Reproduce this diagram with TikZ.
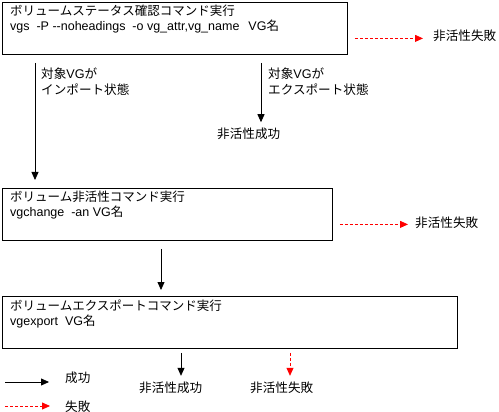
\documentclass[tikz,border=0pt]{standalone}
\usepackage{fontspec}
\setmainfont{Liberation Sans}
\newfontfamily\jp{Noto Sans CJK JP}
\usetikzlibrary{arrows.meta}
\newcommand\J[1]{{\jp #1}}
\begin{document}
\begin{tikzpicture}[x=1pt,y=-1pt,
  box/.style={draw,line width=0.8pt,rectangle,inner sep=0pt,anchor=north west},
  txt/.style={inner sep=0pt,anchor=base west,font=\fontsize{12.5}{14}\selectfont},
  lbl/.style={inner sep=0pt,anchor=base west,font=\jp\fontsize{12.6}{14}\selectfont},
  arr/.style={line width=0.8pt,-{Triangle[length=8pt,width=7pt]}},
  farr/.style={red,line width=0.8pt,dash pattern=on 3pt off 2pt,-{Triangle[length=8pt,width=7pt]}}]
\useasboundingbox (0,0) rectangle (499,412);

% boxes
\node[box,minimum width=345pt,minimum height=52pt] (b1) at (2,2) {};
\node[box,minimum width=330pt,minimum height=52pt] (b2) at (2,188) {};
\node[box,minimum width=455pt,minimum height=52pt] (b3) at (2,296) {};

% box texts
\node[txt] (t1a) at (10,16) {\J{ボリュームステータス確認コマンド実行}};
\node[txt] (t1b) at (10,31) {vgs\ \ -P -{}-noheadings\ \ -o vg\_attr,vg\_name\hspace{9pt}VG\J{名}};
\node[txt] (t2a) at (10,202) {\J{ボリューム非活性コマンド実行}};
\node[txt] (t2b) at (10,217) {vgchange\ \ -an VG\J{名}};
\node[txt] (t3a) at (10,310) {\J{ボリュームエクスポートコマンド実行}};
\node[txt] (t3b) at (10,325) {vgexport\ \ VG\J{名}};

% result labels
\node[lbl] (f1) at (433,41) {非活性失敗};
\node[lbl] (s1) at (217,139) {非活性成功};
\node[lbl] (f2) at (415,227) {非活性失敗};
\node[lbl] (s3) at (139,392) {非活性成功};
\node[lbl] (f3) at (250,392) {非活性失敗};

% condition labels
\node[lbl] (c1a) at (41,79) {対象\fontspec{Liberation Sans}VG\jp が};
\node[lbl] (c1b) at (41,95) {インポート状態};
\node[lbl] (c2a) at (268,79) {対象\fontspec{Liberation Sans}VG\jp が};
\node[lbl] (c2b) at (268,95) {エクスポート状態};

% legend
\coordinate (l1s) at (5,382);
\coordinate (l2s) at (5,406);
\node[lbl] (l1) at (65,382) {成功};
\node[lbl] (l2) at (65,411) {失敗};

% helper points
\coordinate (m1) at ([xshift=259pt,yshift=-8pt]b1.south west);
\coordinate (m2) at ([yshift=6pt]s1.north);
\coordinate (r1) at ([xshift=7pt,yshift=-10pt]b1.east);
\coordinate (r2) at ([xshift=7pt,yshift=-10pt]b2.east);

% connectors
\draw[arr] ([xshift=33pt,yshift=-8pt]b1.south west) -- ([xshift=33pt,yshift=8pt]b2.north west);
\draw[arr] (m1) -- (m1 |- m2);
\draw[farr] (r1) -- ([xshift=-10pt]f1.west |- r1);
\draw[farr] (r2) -- ([xshift=-7pt]f2.west |- r2);
\draw[arr] ([xshift=159pt,yshift=-8pt]b2.south west) -- ([xshift=159pt,yshift=6pt]b3.north west);
\draw[arr] ([xshift=179pt,yshift=-4pt]b3.south west) -- ([xshift=179pt,yshift=-27pt]b3.south west);
\draw[farr] ([xshift=288pt,yshift=-4pt]b3.south west) -- ([xshift=288pt,yshift=-27pt]b3.south west);
\draw[arr] (l1s) -- ([xshift=-16pt]l1.west |- l1s);
\draw[farr] (l2s) -- ([xshift=-15pt]l2.west |- l2s);
\end{tikzpicture}
\end{document}
